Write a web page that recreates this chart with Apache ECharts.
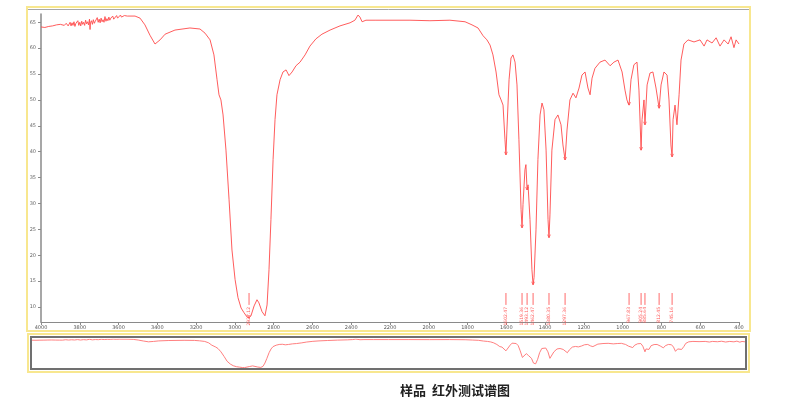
<!DOCTYPE html>
<html>
<head>
<meta charset="utf-8">
<script src="https://cdn.jsdelivr.net/npm/echarts@6/dist/echarts.min.js"></script>
<style>html,body{margin:0;padding:0;background:#fff;}#c{width:800px;height:404px;}</style>
</head>
<body>
<div id="c"></div>
<script>
// wavenumber (cm-1)
const wavenumbers = [4000,3990,3980,3970,3960,3950,3940,3930,3920,3910,3900,3890,3880,3870,3860,
3850,3845,3840,3835,3830,3825,3820,3815,3810,3805,3800,3795,3790,3785,3780,3775,3770,3765,3760,3755,3750,3747,3745,3740,3735,3730,3725,3720,3715,3710,3705,3700,3695,3690,3685,3680,3675,3670,3665,3660,3655,3650,3645,3640,3635,3630,3625,3620,3615,3610,3605,3600,3595,3590,3585,3580,3575,3570,3565,3560,3555,3550,
3515,3489,3464,3438,3412,3386,3360,3309,3232,3180,3154,3128,3108,3092,3082,3072,3061,3046,3030,3015,2999,2984,2968,2953,2938,2927,2917,2901,2886,2876,2860,2845,2834,2824,2814,2803,2793,2783,2767,2752,2736,2721,2705,2685,2664,2638,2613,2582,2551,2509,2458,2406,2381,2365,2355,2344,2324,2277,2200,2097,1994,1891,1813,1777,1746,1720,1700,1684,1669,1653,1638,1627,1617,1607,1602,1597,1586,1576,1566,1555,1545,1535,1524,1519,1514,1504,1499,1493,1488,1478,1468,1462,1457,1447,1437,1426,1416,1406,1395,1385,1380,1375,1365,1349,1334,1318,1308,1297,1287,1272,1256,1241,1225,1210,1194,1179,1168,1158,1143,1117,1091,1065,1045,1024,1003,988,978,967,957,942,926,916,905,900,890,885,874,859,844,828,812,802,787,771,761,751,745,740,730,720,709,699,684,663,632,601,580,565,539,518,498,477,456,441,426,415,400];
// transmittance
const transmittance = [64.1,64.2,64.0,64.3,64.2,64.4,64.3,64.4,64.5,64.3,64.6,64.5,64.4,64.8,64.3,
65.0,64.3,64.9,64.4,65.1,64.2,64.8,64.5,65.3,64.4,65.0,64.3,65.2,64.6,65.0,64.4,65.4,64.7,65.1,64.5,65.6,63.6,64.9,65.3,64.6,65.5,64.8,65.2,64.9,65.9,65.0,65.6,64.9,65.8,65.1,65.5,65.0,66.1,65.2,65.7,65.3,66.0,65.4,65.8,65.5,66.2,65.6,65.9,65.5,66.3,65.8,66.1,65.9,66.4,66.0,66.3,66.0,66.3,66.1,66.3,66.2,66.2,
66.2,65.8,64.5,62.5,60.8,61.6,62.7,63.5,63.9,63.7,62.9,61.6,58.7,53.9,51.0,50.0,47.1,40.3,30.7,21.0,15.3,11.8,9.8,8.9,8.1,7.9,8.3,10.2,11.4,10.8,9.1,8.3,10.4,17.2,26.9,38.5,46.2,51.0,53.9,55.4,55.8,54.7,55.4,56.6,57.3,58.7,60.4,61.8,62.7,63.5,64.3,64.9,65.4,66.4,66.0,65.1,65.4,65.4,65.4,65.4,65.3,65.4,65.1,64.5,63.9,62.4,61.6,60.6,58.7,55.4,51.0,50.0,49.0,42.3,39.4,44.2,53.9,58.1,58.7,57.3,52.9,42.3,28.8,25.3,29.8,36.5,37.5,32.6,33.6,26.9,17.2,14.3,15.7,24.9,38.5,47.1,49.4,48.1,40.3,26.9,23.4,27.8,40.3,46.2,47.1,45.2,41.3,38.4,44.2,50.0,51.3,50.4,52.3,54.8,55.4,52.3,51.0,54.2,56.1,57.3,57.7,56.6,57.3,57.7,55.4,51.9,50.0,49.0,53.9,56.8,57.3,51.9,40.3,46.2,50.0,45.2,52.9,55.2,55.4,52.3,48.4,52.9,55.4,54.8,50.0,41.3,39.0,46.2,49.0,45.2,51.0,57.7,60.8,61.6,61.2,61.6,60.4,61.6,61.0,62.0,60.4,61.6,60.8,62.2,60.1,61.6,60.8];
// picked peaks
const peakWavenumbers = [2927, 1602, 1519, 1493, 1462, 1380, 1297, 967, 905, 885, 812, 745];
const peakValues = [7.9, 39.4, 25.3, 32.6, 14.3, 23.4, 38.4, 49.0, 40.3, 45.2, 48.4, 39.0];
const peakLabels = ['2927.12','1602.47','1519.36','1493.12','1462.47','1380.35','1297.36','967.83','905.24','885.64','812.45','745.16'];
// axis ticks
const xTicks = [4000,3800,3600,3400,3200,3000,2800,2600,2400,2200,2000,1800,1600,1400,1200,1000,800,600,400];
const yTicks = [10,15,20,25,30,35,40,45,50,55,60,65];
const titleText = '样品  红外测试谱图';

const spectrum = wavenumbers.map((w, i) => [w, transmittance[i]]);
const peaks = peakWavenumbers.map((w, i) => [w, peakValues[i], peakLabels[i]]);

const chart = echarts.init(document.getElementById('c'), null, {renderer: 'canvas'});
const YMIN = 7.1, YMAX = 66.6;
const RED = '#ff4a4a';

chart.setOption({
  animation: false,
  backgroundColor: '#fff',
  grid: [
    {left: 41, right: 61, top: 14, bottom: 82},
    {left: 32, right: 55, top: 339, bottom: 36}
  ],
  xAxis: [
    {
      gridIndex: 0, type: 'value', inverse: true, min: 400, max: 4000, interval: 200,
      axisLine: {show: true, lineStyle: {color: '#8a8a8a', width: 1}},
      axisTick: {show: true, length: 3, lineStyle: {color: '#8a8a8a'}},
      axisLabel: {fontSize: 5, color: '#555', margin: 3, fontFamily: 'DejaVu Sans',
        customValues: xTicks, formatter: v => String(v)},
      splitLine: {show: false}
    },
    {gridIndex: 1, type: 'value', inverse: true, min: 400, max: 4000, show: false}
  ],
  yAxis: [
    {
      gridIndex: 0, type: 'value', min: YMIN, max: YMAX,
      axisLine: {show: true, lineStyle: {color: '#8a8a8a', width: 1.5}},
      axisTick: {show: true, length: 3, lineStyle: {color: '#8a8a8a'}, customValues: yTicks},
      axisLabel: {fontSize: 5, color: '#666', margin: 5, fontFamily: 'DejaVu Sans', customValues: yTicks,
        formatter: v => String(v)},
      splitLine: {show: false}
    },
    {gridIndex: 1, type: 'value', min: YMIN, max: YMAX, show: false}
  ],
  series: [
    {
      type: 'line', xAxisIndex: 0, yAxisIndex: 0, data: spectrum, showSymbol: false,
      lineStyle: {color: RED, width: 0.9}, smooth: false, silent: true
    },
    {
      type: 'custom', xAxisIndex: 0, yAxisIndex: 0, data: peaks, silent: true,
      renderItem: function (params, api) {
        const w = api.value(0);
        const top = api.coord([w, 12.7]);
        const bot = api.coord([w, 10.4]);
        const txt = api.coord([w, 10.0]);
        const tip = api.coord([w, api.value(1)]);
        const label = peakLabels[params.dataIndex];
        return {
          type: 'group',
          children: [
            {type: 'line', shape: {x1: top[0], y1: top[1], x2: bot[0], y2: bot[1]},
              style: {stroke: '#ff6a6a', lineWidth: 1}},
            {type: 'text', x: txt[0], y: txt[1], rotation: Math.PI / 2,
              style: {text: label, fontSize: 4.5, fill: '#ff5c5c', align: 'right',
                verticalAlign: 'middle', fontFamily: 'DejaVu Sans'}},
            {type: 'polyline', shape: {points: [[tip[0] - 1.5, tip[1] - 3], [tip[0], tip[1]], [tip[0] + 1.5, tip[1] - 3]]},
              style: {stroke: '#ff6a6a', lineWidth: 0.8, fill: null}}
          ]
        };
      }
    },
    {
      type: 'line', xAxisIndex: 1, yAxisIndex: 1, data: spectrum, showSymbol: false,
      lineStyle: {color: '#ff7070', width: 0.9}, silent: true
    }
  ],
  graphic: [
    {type: 'rect', shape: {x: 27, y: 7, width: 723, height: 324},
      style: {stroke: '#f8e78f', lineWidth: 2, fill: null}, z: 10},
    {type: 'line', shape: {x1: 28, y1: 9.5, x2: 749, y2: 9.5},
      style: {stroke: '#a8a8a8', lineWidth: 1}, z: 10},
    {type: 'rect', shape: {x: 28, y: 334, width: 721, height: 38},
      style: {stroke: '#f8e78f', lineWidth: 2, fill: null}, z: 10},
    {type: 'rect', shape: {x: 31, y: 337, width: 715, height: 32},
      style: {stroke: '#707070', lineWidth: 2, fill: null}, z: 10},
    {type: 'text', x: 455, y: 390, z: 10,
      style: {text: titleText, fontSize: 13, fontWeight: 'bold', fill: '#222',
        align: 'center', verticalAlign: 'middle', fontFamily: 'Noto Sans CJK SC'}}
  ]
});
</script>
</body>
</html>
